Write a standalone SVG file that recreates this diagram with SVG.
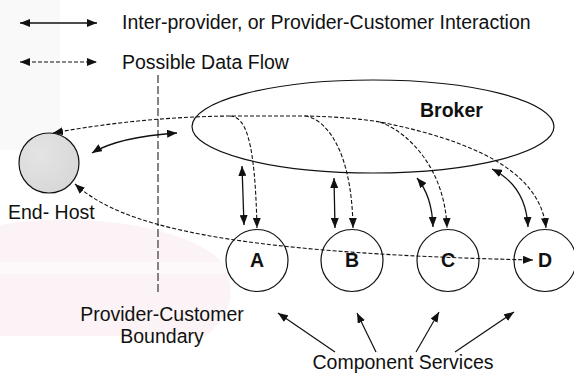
<svg xmlns="http://www.w3.org/2000/svg" width="574" height="373" viewBox="0 0 574 373">
  <defs>
    <marker id="head" viewBox="0 0 10 8" refX="10" refY="4" markerWidth="10" markerHeight="8" markerUnits="userSpaceOnUse" orient="auto-start-reverse">
      <path d="M0,0 L10,4 L0,8 z" fill="#111"/>
    </marker>
    <radialGradient id="hostFill" cx="0.35" cy="0.35" r="0.75">
      <stop offset="0" stop-color="#e4e4e4"/>
      <stop offset="1" stop-color="#d7d7d7"/>
    </radialGradient>
    <style>
      .lbl { font-family: "Liberation Sans", Arial, sans-serif; font-size: 19.5px; fill: #111; }
      .bold { font-weight: bold; }
      .mid { text-anchor: middle; }
      .node { fill: none; stroke: #111; stroke-width: 1.2; }
      .solid { fill: none; stroke: #111; stroke-width: 1.3; marker-start: url(#head); marker-end: url(#head); }
      .flow { fill: none; stroke: #111; stroke-width: 1.1; stroke-dasharray: 4 2; }
      .both { marker-start: url(#head); marker-end: url(#head); }
      .tip { marker-end: url(#head); }
      .one { fill: none; stroke: #111; stroke-width: 1.2; marker-end: url(#head); }
    </style>
  </defs>

  <rect width="574" height="373" fill="#fff"/>

  <!-- faint backdrop tint -->
  <g id="backdrop">
    <path d="M0,225 C70,212 175,222 218,258 C240,285 232,318 205,336 L0,336 Z" fill="#fbf3f5"/>
    <rect x="0" y="262" width="225" height="12" fill="#fdf9fa"/>
    <path d="M0,0 L60,0 L60,150 L0,150 Z" fill="#f9f9f9"/>
  </g>

  <!-- legend -->
  <g id="legend">
    <path class="solid" d="M20,23 L97,23"/>
    <text class="lbl" x="122" y="29">Inter-provider, or Provider-Customer Interaction</text>
    <path class="flow both" d="M20,62 L97,62"/>
    <text class="lbl" x="122" y="69">Possible Data Flow</text>
  </g>

  <!-- provider / customer boundary -->
  <g id="boundary">
    <line x1="158" y1="75" x2="158" y2="292" stroke="#444" stroke-width="1.3" stroke-dasharray="8 3"/>
    <text class="lbl mid" x="162" y="321">Provider-Customer</text>
    <text class="lbl mid" x="162" y="343">Boundary</text>
  </g>

  <g id="end-host">
    <circle cx="49" cy="163" r="30" fill="url(#hostFill)" stroke="#111" stroke-width="1.2"/>
    <text class="lbl" x="8" y="219">End- Host</text>
  </g>

  <g id="broker">
    <ellipse class="node" cx="373" cy="126.5" rx="181" ry="46.5"/>
    <text class="lbl bold" x="420" y="117">Broker</text>
  </g>

  <g id="service-a">
    <circle class="node" cx="257" cy="260.5" r="31"/>
    <text class="lbl bold mid" x="257" y="267">A</text>
  </g>
  <g id="service-b">
    <circle class="node" cx="352" cy="260.5" r="31"/>
    <text class="lbl bold mid" x="352" y="267">B</text>
  </g>
  <g id="service-c">
    <circle class="node" cx="448" cy="260.5" r="31"/>
    <text class="lbl bold mid" x="448" y="267">C</text>
  </g>
  <g id="service-d">
    <circle class="node" cx="545" cy="260.5" r="31"/>
    <text class="lbl bold mid" x="545" y="267">D</text>
  </g>

  <g id="services-label">
    <text class="lbl mid" x="403" y="369">Component Services</text>
  </g>

  <g id="connectors">
    <!-- interactions -->
    <path class="solid" d="M92,153 Q118,137 177,133"/>
    <path class="solid" d="M242,166 L244,225"/>
    <path class="solid" d="M334,178 L335,228"/>
    <path class="solid" d="M417,178 Q432,196 433,227"/>
    <path class="solid" d="M492,169 Q526,186 528,227"/>

    <!-- data flows through the broker -->
    <path class="flow" d="M53,133 Q140,117 230,116 L305,116 Q350,117 380,122 C470,140 540,170 546,228" marker-start="url(#head)" marker-end="url(#head)"/>
    <path class="flow tip" d="M230,116 C246,117 255,140 257,228"/>
    <path class="flow tip" d="M305,116 C326,119 352,150 353,228"/>
    <path class="flow tip" d="M380,122 C410,133 445,170 447,228"/>

    <!-- direct flow from end-host to D -->
    <path class="flow both" d="M75,184 C120,225 220,253 533,260"/>

    <!-- pointers from the services label -->
    <path class="one" d="M335,352 L278,313"/>
    <path class="one" d="M376,352 L357,313"/>
    <path class="one" d="M416,352 L439,312"/>
    <path class="one" d="M455,352 L514,312"/>
  </g>
</svg>
